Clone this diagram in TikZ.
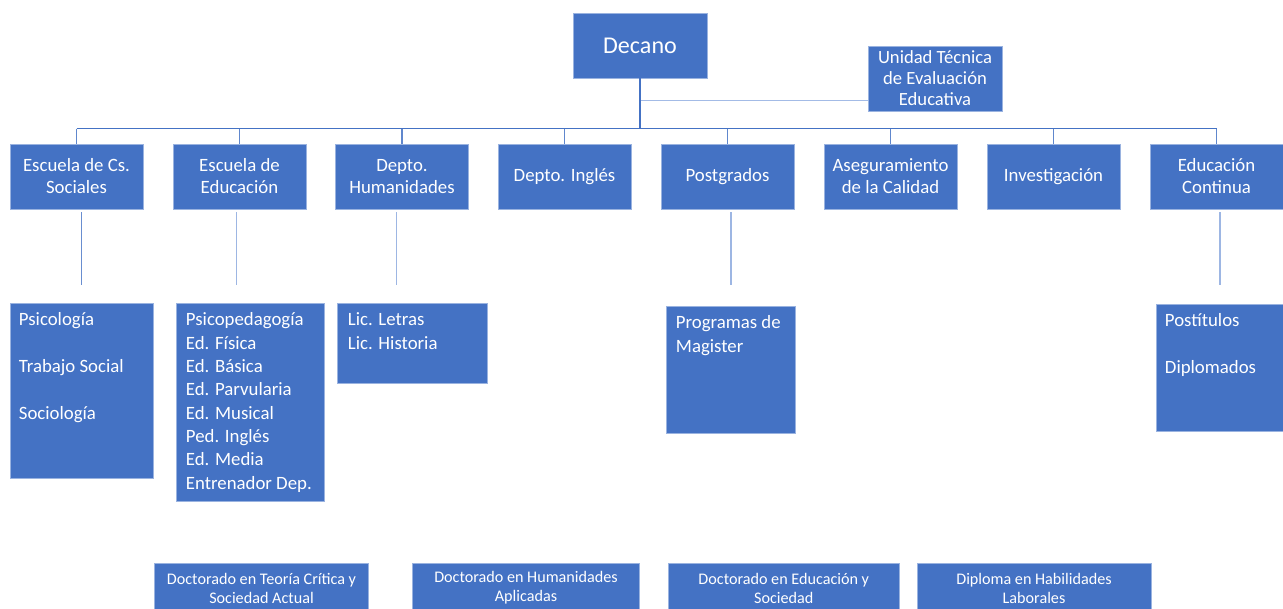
\documentclass[tikz,border=0pt]{standalone}
\usepackage{fontspec}
\setmainfont{Carlito}
\definecolor{obl}{HTML}{4472C4}
\definecolor{lbl}{HTML}{A3BBE6}
\definecolor{edgec}{HTML}{9AB3E0}
\definecolor{dropc}{HTML}{9DB6E3}
\begin{document}
\begin{tikzpicture}[x=0.02cm,y=-0.02cm,
  box/.style={fill=obl, draw=edgec, line width=0.5pt, text=white, inner sep=0pt, align=center},
  top/.style={box, minimum width=2.68cm, minimum height=1.30cm},
  lvltwo/.style={box, minimum width=2.66cm, minimum height=1.30cm, font=\fontsize{10.7}{12.5}\selectfont},
  lvlthree/.style={box},
  ltxt/.style={anchor=north west, inner sep=0pt, text=white, align=left, font=\fontsize{10.7}{13.26}\selectfont},
  bottombox/.style={box, minimum height=0.98cm, font=\fontsize{9.2}{10.8}\selectfont},
  main/.style={draw=obl, line width=1.1pt},
  bus/.style={draw=obl, line width=0.8pt},
  tick/.style={draw=obl!85!white, line width=0.7pt},
  branch/.style={draw=lbl, line width=1.1pt},
  drop/.style={draw=dropc, line width=0.9pt}]
\useasboundingbox (0,0) rectangle (1283,608);

% top level
\node[top, font=\fontsize{13.7}{16}\selectfont] (dec) at (640,45.5) {Decano};
\node[top, font=\fontsize{10.6}{11.9}\selectfont] (ute) at (935,78.5) {Unidad Técnica\\de Evaluación\\Educativa};

% level 2
\node[lvltwo] (b1) at (76.5,176.5) {Escuela de Cs.\\Sociales};
\node[lvltwo] (b2) at (239.5,176.5) {Escuela de\\Educación};
\node[lvltwo] (b3) at (402,176.5) {Depto.\\Humanidades};
\node[lvltwo] (b4) at (564.5,176.5) {Depto. Inglés};
\node[lvltwo] (b5) at (727.5,176.5) {Postgrados};
\node[lvltwo] (b6) at (890.5,176.5) {Aseguramiento\\de la Calidad};
\node[lvltwo] (b7) at (1053.5,176.5) {Investigación};
\node[lvltwo] (b8) at (1216.5,176.5) {Educación\\Continua};

% connectors top
\coordinate (busL) at (76.5,128.5);
\coordinate (busR) at (1216.5,128.5);
\coordinate (busM) at (640,128.5);
\coordinate (brM) at (640,100.5);
\draw[branch] (brM) -- (brM -| ute.west);
\draw[bus] (busL) -- (busR);
\draw[main] (dec.south) -- (busM);
\foreach \b in {b1,b2,b3,b4,b5,b6,b7,b8}{
  \draw[tick] (\b.north |- busM) -- (\b.north);
}

% level 3
\node[lvlthree, minimum width=2.86cm, minimum height=3.5cm] (c1) at (81.5,390.5) {};
\node[ltxt] (c1t) at ([shift={(9,10)}]c1.north west) {Psicología\\[13.26pt]Trabajo Social\\[13.26pt]Sociología};
\node[lvlthree, minimum width=2.96cm, minimum height=3.96cm] (c2) at (250,402) {};
\node[ltxt] (c2t) at ([shift={(10,10)}]c2.north west) {Psicopedagogía\\Ed. Física\\Ed. Básica\\Ed. Parvularia\\Ed. Musical\\Ped. Inglés\\Ed. Media\\Entrenador Dep.};
\node[lvlthree, minimum width=3.0cm, minimum height=1.6cm] (c3) at (412,343) {};
\node[ltxt] (c3t) at ([shift={(11,10)}]c3.north west) {Lic. Letras\\Lic. Historia};
\node[lvlthree, minimum width=2.58cm, minimum height=2.54cm] (c5) at (730.5,369.5) {};
\node[ltxt] (c5t) at ([shift={(10,10)}]c5.north west) {Programas de\\Magister};
\node[lvlthree, minimum width=2.54cm, minimum height=2.54cm] (c8) at (1219.5,367.5) {};
\node[ltxt] (c8t) at ([shift={(9,10)}]c8.north west) {Postítulos\\[13.26pt]Diplomados};

% drops
\coordinate (d1a) at (81.3,212);  \coordinate (d1b) at (81.3,285);
\coordinate (d2a) at (236.7,212); \coordinate (d2b) at (236.7,285);
\coordinate (d3a) at (396.7,212); \coordinate (d3b) at (396.7,285);
\coordinate (d5a) at (730.7,212); \coordinate (d5b) at (730.7,285);
\coordinate (d8a) at (1220,212);  \coordinate (d8b) at (1220,285);
\draw[drop, draw=obl!80!white] (d1a) -- (d1b);
\draw[drop] (d2a) -- (d2b);
\draw[drop] (d3a) -- (d3b);
\draw[drop] (d5a) -- (d5b);
\draw[drop] (d8a) -- (d8b);

% bottom
\begin{scope}
\clip (0,0) rectangle (1283,608);
\node[bottombox, minimum width=4.28cm] (e1) at (261.5,588) {Doctorado en Teoría Crítica y\\Sociedad Actual};
\node[bottombox, minimum width=4.54cm] (e2) at (526,588) {Doctorado en Humanidades\\Aplicadas};
\node[bottombox, minimum width=4.63cm] (e3) at (783.75,588) {Doctorado en Educación y\\Sociedad};
\node[bottombox, minimum width=4.68cm] (e4) at (1034,588) {Diploma en Habilidades\\Laborales};
\end{scope}
\end{tikzpicture}
\end{document}
